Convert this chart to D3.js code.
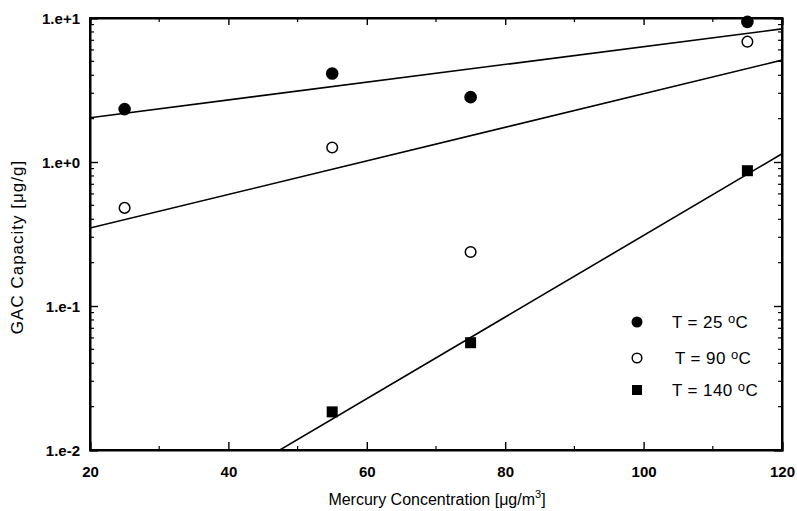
<!DOCTYPE html>
<html>
<head>
<meta charset="utf-8">
<script src="https://cdn.jsdelivr.net/npm/d3@7"></script>
<style>
  html, body { margin: 0; padding: 0; background: #fff; }
  svg { display: block; }
  text { font-family: "Liberation Sans", Arial, sans-serif; fill: #000; }
</style>
</head>
<body>
<svg id="chart" width="797" height="511"></svg>
<script>
// ---- data ----
const concentrations = [25, 55, 75, 115];
const capacity25 = [2.33, 4.12, 2.82, 9.4];
const capacity90 = [0.48, 1.26, 0.237, 6.85];
const capacity140 = [null, 0.0184, 0.0556, 0.87];
const fitX = [20, 120];
const fit25 = [2.03, 8.4];
const fit90 = [0.348, 5.1];
const fit140 = [0.00167, 1.14];
const xTicks = [20, 40, 60, 80, 100, 120];
const yTicks = [0.01, 0.1, 1, 10];
const yTickLabels = ["1.e-2", "1.e-1", "1.e+0", "1.e+1"];
const legendLabels = ["25", "90", "140"];

// ---- layout ----
const svg = d3.select("#chart");
const L = 90, R = 782, T = 18, B = 450;
const x = d3.scaleLinear().domain([20, 120]).range([L, R]);
const y = d3.scaleLog().domain([0.01, 10]).range([B, T]);

svg.append("defs").append("clipPath").attr("id", "clip")
  .append("rect").attr("x", L).attr("y", T).attr("width", R - L).attr("height", B - T);

// minor ticks
const xMinor = d3.range(30, 120, 20);
const yMinor = [];
[0.01, 0.1, 1].forEach(d => { for (let k = 2; k <= 9; k++) yMinor.push(d * k); });

const g = svg.append("g");
// bottom axis
const axB = g.append("g").attr("transform", `translate(0,${B})`)
  .call(d3.axisBottom(x).tickValues(xTicks).tickSize(-8).tickPadding(16).tickFormat(d3.format("d")));
axB.append("g").selectAll("line").data(xMinor).join("line")
  .attr("x1", d => x(d)).attr("x2", d => x(d)).attr("y1", 0).attr("y2", -4).attr("stroke", "#000").attr("stroke-width", 1.2);
// top axis
const axT = g.append("g").attr("transform", `translate(0,${T})`)
  .call(d3.axisTop(x).tickValues(xTicks).tickSize(-7).tickFormat(""));
axT.append("g").selectAll("line").data(xMinor).join("line")
  .attr("x1", d => x(d)).attr("x2", d => x(d)).attr("y1", 0).attr("y2", 4).attr("stroke", "#000").attr("stroke-width", 1.2);
// left axis
const axL = g.append("g").attr("transform", `translate(${L},0)`)
  .call(d3.axisLeft(y).tickValues(yTicks).tickSize(-8).tickPadding(10).tickFormat((d, i) => yTickLabels[i]));
axL.append("g").selectAll("line").data(yMinor).join("line")
  .attr("y1", d => y(d)).attr("y2", d => y(d)).attr("x1", 0).attr("x2", 4).attr("stroke", "#000").attr("stroke-width", 1.2);
// right axis
const axR = g.append("g").attr("transform", `translate(${R},0)`)
  .call(d3.axisRight(y).tickValues(yTicks).tickSize(-8).tickFormat(""));
axR.append("g").selectAll("line").data(yMinor).join("line")
  .attr("y1", d => y(d)).attr("y2", d => y(d)).attr("x1", 0).attr("x2", -4).attr("stroke", "#000").attr("stroke-width", 1.2);

[axB, axT, axL, axR].forEach(a => {
  a.select(".domain").attr("stroke", "#000").attr("stroke-width", 2);
  a.selectAll(".tick line").attr("stroke", "#000").attr("stroke-width", 1.4);
  a.selectAll(".tick text").attr("font-size", 15).attr("font-weight", "bold")
    .attr("font-family", "'Liberation Sans', Arial, sans-serif");
});
axL.selectAll(".tick text").attr("dy", "0.35em");

// frame
svg.append("rect").attr("x", L).attr("y", T).attr("width", R - L).attr("height", B - T)
  .attr("fill", "none").attr("stroke", "#000").attr("stroke-width", 2);

// fit lines
const line = d3.line().x(d => x(d[0])).y(d => y(d[1]));
const plot = svg.append("g").attr("clip-path", "url(#clip)");
[fit25, fit90, fit140].forEach(f => {
  plot.append("path").datum(fitX.map((xv, i) => [xv, f[i]]))
    .attr("d", line).attr("fill", "none").attr("stroke", "#000").attr("stroke-width", 1.6);
});

// points
const pts = svg.append("g");
pts.selectAll("circle.s25").data(concentrations.map((c, i) => [c, capacity25[i]]))
  .join("circle").attr("class", "s25").attr("cx", d => x(d[0])).attr("cy", d => y(d[1]))
  .attr("r", 6.3).attr("fill", "#000");
pts.selectAll("circle.s90").data(concentrations.map((c, i) => [c, capacity90[i]]))
  .join("circle").attr("class", "s90").attr("cx", d => x(d[0])).attr("cy", d => y(d[1]))
  .attr("r", 5.3).attr("fill", "#fff").attr("stroke", "#000").attr("stroke-width", 1.5);
pts.selectAll("rect.s140").data(concentrations.map((c, i) => [c, capacity140[i]]).filter(d => d[1] != null))
  .join("rect").attr("class", "s140").attr("x", d => x(d[0]) - 5.5).attr("y", d => y(d[1]) - 5.5)
  .attr("width", 11).attr("height", 11).attr("fill", "#000");

// legend
const legY = [322, 358, 390];
const legX = [672, 675, 672];
const leg = svg.append("g");
legendLabels.forEach((lab, i) => {
  const cy = legY[i];
  if (i === 0) leg.append("circle").attr("cx", 637).attr("cy", cy).attr("r", 5.5).attr("fill", "#000");
  if (i === 1) leg.append("circle").attr("cx", 637).attr("cy", cy).attr("r", 4.8).attr("fill", "#fff").attr("stroke", "#000").attr("stroke-width", 1.5);
  if (i === 2) leg.append("rect").attr("x", 632).attr("y", cy - 5).attr("width", 10).attr("height", 10).attr("fill", "#000");
  const t = leg.append("text").attr("x", legX[i]).attr("y", cy + 6).attr("font-size", 17).attr("letter-spacing", 0.4);
  t.append("tspan").text(`T = ${lab} `);
  t.append("tspan").attr("font-size", 13).attr("dy", -5).text("o");
  t.append("tspan").attr("dy", 5).text("C");
});

// axis titles
const xt = svg.append("text").attr("x", 437).attr("y", 505).attr("text-anchor", "middle").attr("font-size", 16);
xt.append("tspan").text("Mercury Concentration [\u03bcg/m");
xt.append("tspan").attr("font-size", 11).attr("dy", -7).text("3");
xt.append("tspan").attr("dy", 7).text("]");

svg.append("text").attr("transform", "translate(23,247) rotate(-90)")
  .attr("text-anchor", "middle").attr("font-size", 17).attr("letter-spacing", 1.0)
  .text("GAC Capacity [\u03bcg/g]");
</script>
</body>
</html>
